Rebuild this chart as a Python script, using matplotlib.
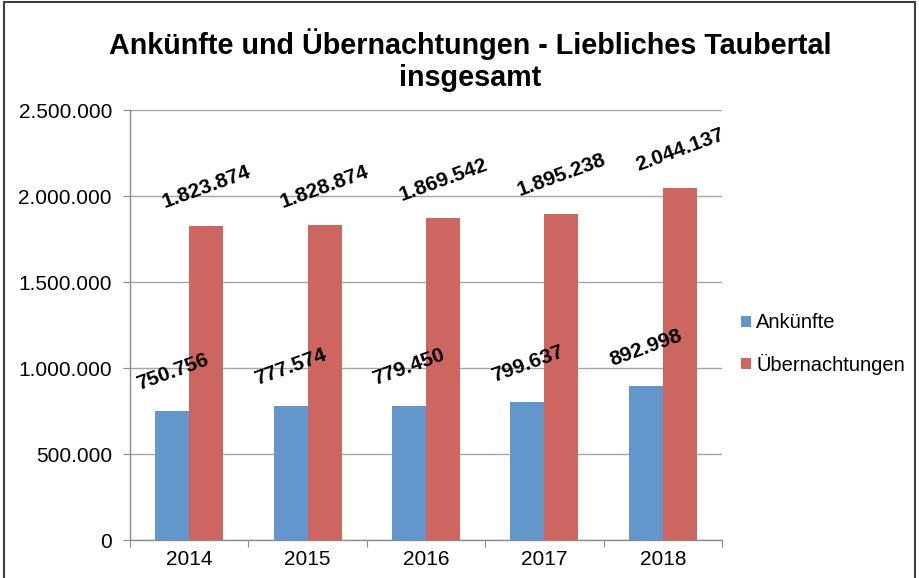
import matplotlib
matplotlib.use("Agg")
import matplotlib.pyplot as plt
import numpy as np
from matplotlib.patches import Rectangle

years = ["2014", "2015", "2016", "2017", "2018"]
ankuenfte = [750756, 777574, 779450, 799637, 892998]
uebernachtungen = [1823874, 1828874, 1869542, 1895238, 2044137]
series_names = ["Ankünfte", "Übernachtungen"]
y_ticks = [0, 500000, 1000000, 1500000, 2000000, 2500000]

plt.rcParams['font.family'] = ['Liberation Sans', 'DejaVu Sans']

def de_fmt(v):
    return f"{int(v):,}".replace(",", ".")

W, H = 920, 578
fig = plt.figure(figsize=(W/100, H/100), dpi=100)
ax = fig.add_axes([130/W, 1-540/H, (722-130)/W, (540-110)/H])

x = np.arange(len(years))
bw = 0.287
c_blue = '#6397CB'
c_red = '#CD6660'
b1 = ax.bar(x - bw/2, ankuenfte, bw, color=c_blue, label=series_names[0], zorder=3)
b2 = ax.bar(x + bw/2, uebernachtungen, bw, color=c_red, label=series_names[1], zorder=3)

for bars, vals in ((b1, ankuenfte), (b2, uebernachtungen)):
    for rect, v in zip(bars, vals):
        ax.annotate(de_fmt(v), (rect.get_x() + rect.get_width()/2, v),
                    xytext=(0, 28), textcoords='offset points',
                    ha='center', va='center', rotation=20,
                    fontsize=15, fontweight='bold', zorder=5)

ax.set_xlim(-0.5, len(years) - 0.5)
ax.set_ylim(0, 2500000)
ax.set_yticks(y_ticks)
ax.set_yticklabels([de_fmt(v) for v in y_ticks], fontsize=15)
ax.yaxis.grid(True, color='#a6a6a6', linewidth=1, zorder=0)
ax.set_axisbelow(True)

ax.set_xticks(np.arange(-0.5, len(years), 1.0))
ax.set_xticklabels([])
ax.set_xticks(x, minor=True)
ax.set_xticklabels(years, minor=True, fontsize=15)
ax.tick_params(axis='x', which='minor', length=0, pad=7)
ax.tick_params(axis='x', which='major', length=5, color='#8c8c8c', direction='out')
ax.tick_params(axis='y', length=5, color='#8c8c8c', direction='out', pad=8)

for s in ['top', 'right']:
    ax.spines[s].set_visible(False)
for s in ['left', 'bottom']:
    ax.spines[s].set_color('#8c8c8c')
    ax.spines[s].set_linewidth(1)

fig.text(470/W, 1-60/H, "Ankünfte und Übernachtungen - Liebliches Taubertal\ninsgesamt",
         ha='center', va='center', fontsize=20.7, fontweight='bold', linespacing=1.2)

fig.legend(handles=[b1, b2], labels=series_names, loc='center left',
           bbox_to_anchor=(723/W, 1-344/H), frameon=False, fontsize=14.5,
           handlelength=0.5, handleheight=0.5, handletextpad=0.25, labelspacing=1.05)

fig.patches.append(Rectangle((4/W, -0.1), (915-4)/W, 1.1 - 2/H, transform=fig.transFigure,
                             fill=False, edgecolor='#404040', linewidth=1.5))

fig.savefig("out.png", dpi=100)
